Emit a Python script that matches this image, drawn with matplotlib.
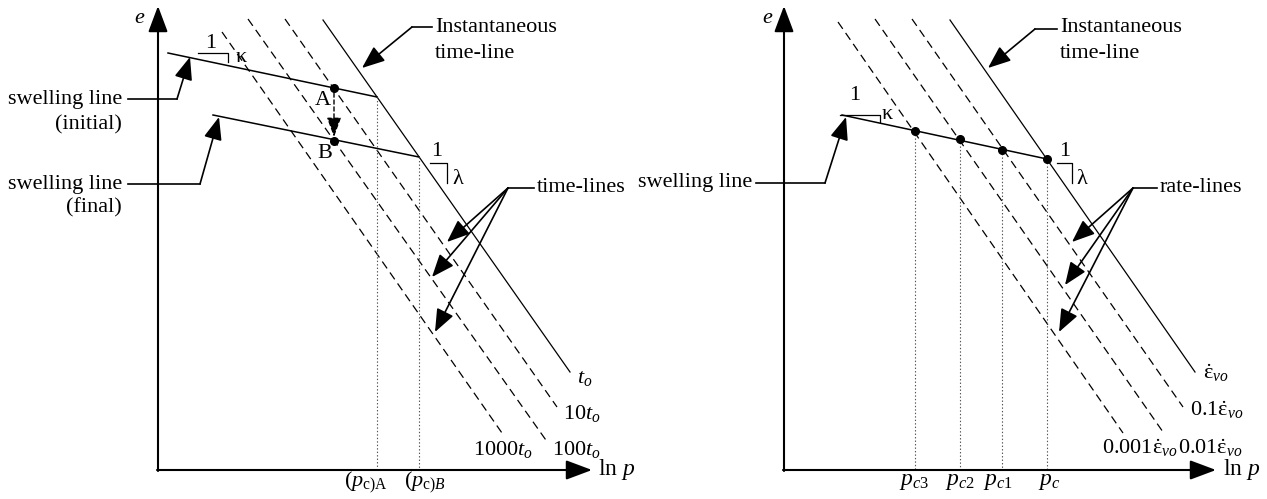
import matplotlib.pyplot as plt

plt.rcParams["font.family"] = ["Liberation Serif", "DejaVu Serif"]
plt.rcParams["mathtext.fontset"] = "custom"
plt.rcParams["mathtext.rm"] = "Liberation Serif"
plt.rcParams["mathtext.it"] = "Liberation Serif:italic"
plt.rcParams["lines.scale_dashes"] = False

# ---------------- left panel: time-lines (pixel units, e axis pointing down) ----------------
time_top = [(323, 20), (285, 19), (248, 19), (222, 32)]
time_end = [(570, 372), (557, 407), (548, 443), (502, 433)]
time_labels = [r"$t_o$", r"$10t_o$", r"$100t_o$", r"$1000t_o$"]
time_label_xy = [(577, 378), (563, 413), (552, 450), (473, 450)]

swell_initial = [(168, 53), (377, 97)]
swell_final = [(213, 115), (419, 157)]
point_A = (334, 88)
point_B = (334, 141)
pc_left_x = [377, 419]
pc_left_y = [97, 157]
pc_left_labels = [r"$(p_{\mathrm{c)A}}$", r"$(p_{\mathrm{c)}B}$"]

# ---------------- right panel: rate-lines ----------------
rate_top = [(950, 20), (912, 19), (875, 19), (838, 22)]
rate_end = [(1195, 372), (1183, 407), (1163, 432), (1123, 433)]
rate_labels = [r"$\dot{\mathrm{\varepsilon}}_{vo}$", r"$0.1\dot{\mathrm{\varepsilon}}_{vo}$",
               r"$0.01\dot{\mathrm{\varepsilon}}_{vo}$", r"$0.001\dot{\mathrm{\varepsilon}}_{vo}$"]
rate_label_xy = [(1203, 373), (1190, 410), (1178, 448), (1102, 448)]

swell_right = [(842, 115), (1047, 159)]
pc_right_x = [915, 960, 1002, 1047]
pc_right_y = [131, 139, 150, 159]
pc_right_labels = [r"$p_{c3}$", r"$p_{c2}$", r"$p_{c1}$", r"$p_c$"]

FS = 16
fig = plt.figure(figsize=(12.67, 4.99), dpi=100)
ax = fig.add_axes([0, 0, 1, 1])
ax.set_xlim(0, 1267)
ax.set_ylim(499, 0)
ax.axis("off")


def arrow(start, tip, lw=1.2, hl=0.7, hw=0.28, ls="-"):
    ax.annotate("", xy=tip, xytext=start,
                arrowprops=dict(arrowstyle=f"-|>,head_length={hl},head_width={hw}",
                                lw=lw, color="black", mutation_scale=20,
                                shrinkA=0, shrinkB=0, linestyle=ls))


def leader(text_end, bend, tips):
    ax.plot([text_end[0], bend[0]], [text_end[1], bend[1]], color="black", lw=1.2)
    for t in tips:
        arrow(bend, t)


def slope_mark(x0, x1, y0, y1, one_xy, sym, sym_xy):
    ax.plot([x0, x1, x1], [y0, y0, y1], color="black", lw=0.9)
    ax.text(*one_xy, "1", fontsize=FS, ha="center", va="center")
    ax.text(*sym_xy, sym, fontsize=FS, ha="center", va="center")


for x0, labx, laby in [(158, 140, 18), (784, 768, 18)]:
    arrow((x0, 471), (x0, 6), lw=1.5, hl=0.8, hw=0.3)
    arrow((x0 - 1, 470), (592 if x0 < 600 else 1216, 470), lw=1.5, hl=0.8, hw=0.3)
    ax.text(labx, laby, r"$e$", fontsize=FS, ha="center", va="center")
ax.text(598, 469, r"ln $p$", fontsize=FS + 1, ha="left", va="center")
ax.text(1223, 469, r"ln $p$", fontsize=FS + 1, ha="left", va="center")

# time-lines / rate-lines
for tops, ends, labs, labxy in [(time_top, time_end, time_labels, time_label_xy),
                                (rate_top, rate_end, rate_labels, rate_label_xy)]:
    for i, ((xa, ya), (xb, yb)) in enumerate(zip(tops, ends)):
        style = "-" if i == 0 else (0, (6, 3.6))
        ax.plot([xa, xb], [ya, yb], color="black", lw=0.9, linestyle=style)
    for lab, (lx, ly) in zip(labs, labxy):
        ax.text(lx, ly, lab, fontsize=FS, ha="left", va="center")

# swelling lines
for seg in [swell_initial, swell_final, swell_right]:
    ax.plot([seg[0][0], seg[1][0]], [seg[0][1], seg[1][1]], color="black", lw=1.1)

# preconsolidation pressures
for xs, ys in [(pc_left_x, pc_left_y), (pc_right_x, pc_right_y)]:
    for x, y in zip(xs, ys):
        ax.plot([x, x], [y, 469], color="#555555", lw=0.8, linestyle=(0, (1, 1.5)))
for x, lab in zip([366, 425], pc_left_labels):
    ax.text(x, 482, lab, fontsize=FS, ha="center", va="center")
for x, lab in zip([914, 960, 998, 1049], pc_right_labels):
    ax.text(x, 481, lab, fontsize=FS + 1, ha="center", va="center")
ax.plot(pc_right_x, pc_right_y, "o", color="black", ms=5.5)

# A -> B
ax.plot(*zip(point_A, point_B), "o", color="black", ms=5.5)
arrow((point_A[0], point_A[1] + 5), (point_B[0], point_B[1] - 4), lw=1.0, hl=0.6, hw=0.22, ls=(0, (3, 2)))
ax.text(323, 100, "A", fontsize=FS, ha="center", va="center")
ax.text(325, 154, "B", fontsize=FS, ha="center", va="center")

# slope marks
slope_mark(198, 228, 53, 62, (211, 43), "κ", (241, 57))
slope_mark(430, 447, 163, 183, (437, 152), "λ", (458, 180))
slope_mark(840, 880, 115, 122, (855, 95), "κ", (887, 114))
slope_mark(1057, 1072, 163, 183, (1065, 152), "λ", (1082, 180))

# annotations
ax.text(122, 99, "swelling line", fontsize=FS, ha="right", va="center")
ax.text(122, 125, "(initial)", fontsize=FS, ha="right", va="center")
ax.text(122, 184, "swelling line", fontsize=FS, ha="right", va="center")
ax.text(122, 208, "(final)", fontsize=FS, ha="right", va="center")
leader((128, 99), (177, 99), [(190, 57)])
leader((128, 184), (200, 184), [(219, 117)])

ax.text(752, 183, "swelling line", fontsize=FS, ha="right", va="center")
leader((756, 183), (825, 183), [(846, 117)])

for x_txt, y_line, bend, tip in [(435, 27, 412, (362, 68)), (1060, 29, 1035, (988, 68))]:
    ax.text(x_txt, 27, "Instantaneous", fontsize=FS, ha="left", va="center")
    ax.text(x_txt, 53, "time-line", fontsize=FS, ha="left", va="center")
    leader((x_txt - 3, y_line), (bend, y_line), [tip])

ax.text(537, 188, "time-lines", fontsize=FS, ha="left", va="center")
leader((534, 188), (508, 188), [(447, 242), (432, 277), (435, 332)])
ax.text(1160, 188, "rate-lines", fontsize=FS, ha="left", va="center")
leader((1157, 188), (1133, 188), [(1072, 242), (1065, 285), (1059, 332)])

fig.savefig("out.png", dpi=100)
